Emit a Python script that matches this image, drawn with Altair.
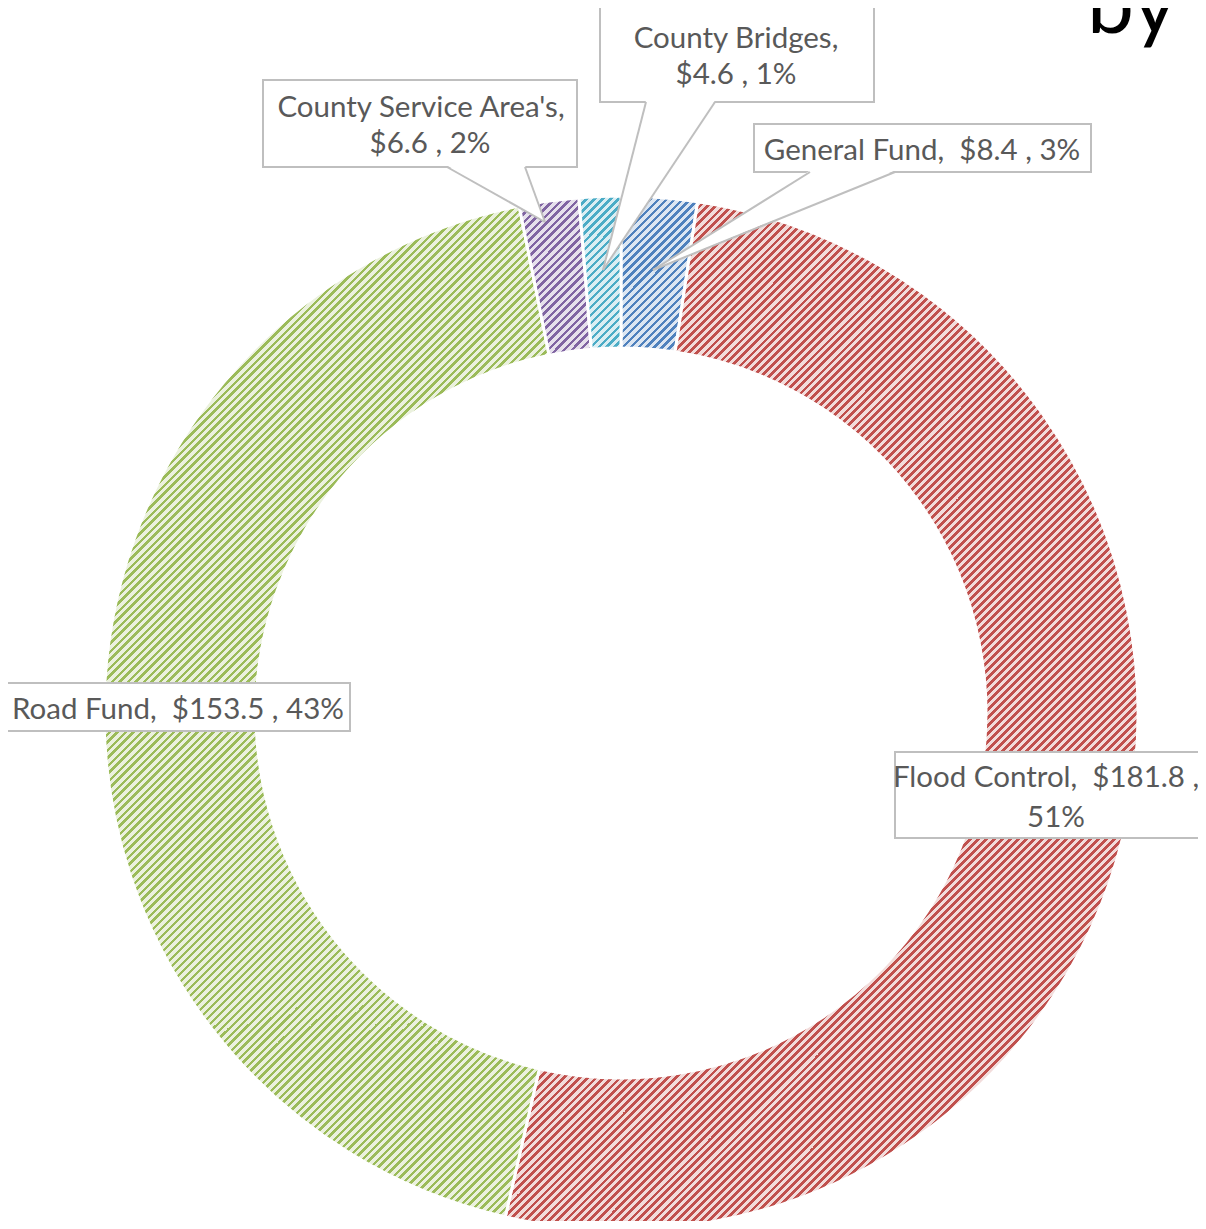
import math
import altair as alt
import pandas as pd

# ---------------- data ----------------
names = ["General Fund", "Flood Control", "Road Fund", "County Service Area's", "County Bridges"]
amounts = [8.4, 181.8, 153.5, 6.6, 4.6]
amount_labels = ["$8.4", "$181.8", "$153.5", "$6.6", "$4.6"]
percents = ["3%", "51%", "43%", "2%", "1%"]
title_fragment = "by"

# ---------------- styles / layout ----------------
dark_cols = ["#4F81BD", "#C0504D", "#9BBB59", "#8064A2", "#4BACC6"]
light_cols = ["#DCE6F2", "#F2DCDB", "#EBF1DE", "#E6E0EC", "#DAEEF3"]
OFF = 8
W, H = 1190, 1213
CX, CY = 621 - OFF, 713 - OFF
R_OUT, R_IN = 517, 365
NBSP = "\u00a0"

line_break = ["none", "after_value", "none", "after_name", "after_name"]
# page coordinates of label boxes and text baselines
boxes = [(754, 124, 1091, 172), (895, 752, 1215, 838), (6, 683, 350, 731),
         (263, 80, 577, 167), (600, 6, 874, 102)]
line_pos = [[(922, 160)], [(1046, 787), (1056, 827)], [(178, 719)],
            [(421, 117), (430, 153)], [(736, 48), (736, 84)]]
callouts = {0: (810, 895, 172, 653, 270), 3: (447, 525, 167, 545, 222), 4: (646, 715, 102, 603, 270)}

total = sum(amounts)


def arc_bbox(a0, a1):
    pts = []
    for a in (a0, a1):
        for r in (R_OUT, R_IN):
            pts.append((CX + r * math.sin(a), CY - r * math.cos(a)))
    for k in range(5):
        c = k * math.pi / 2
        if a0 < c < a1:
            pts.append((CX + R_OUT * math.sin(c), CY - R_OUT * math.cos(c)))
    xs = [p[0] for p in pts]
    ys = [p[1] for p in pts]
    return min(xs), min(ys), max(xs), max(ys)


def hatch(dark, light, bbox, period=8.0, frac=0.39):
    x0, y0, x1, y1 = bbox
    w, h = x1 - x0, y1 - y0
    s = w + h
    k = s / (w * w + h * h)
    base = x0 + y0
    bounds = []
    m = math.floor(base / period)
    while m * period <= base + s:
        for b in (m * period, m * period + frac * period):
            if base < b < base + s:
                bounds.append(b)
        m += 1
    cur = dark if (base % period) < frac * period else light
    stops = [alt.GradientStop(offset=0, color=cur)]
    for b in bounds:
        off = round((b - base) / s, 5)
        stops.append(alt.GradientStop(offset=off, color=cur))
        cur = dark if cur == light else light
        stops.append(alt.GradientStop(offset=off, color=cur))
    stops.append(alt.GradientStop(offset=1, color=cur))
    return alt.LinearGradient(gradient="linear", stops=stops, x1=0, y1=0,
                              x2=round(w * k, 5), y2=round(h * k, 5))


df = pd.DataFrame({"name": names, "amount": amounts, "order": list(range(len(names)))})
base = alt.Chart(df).transform_stack(
    stack="amount", groupby=[], as_=["v0", "v1"],
    sort=[alt.SortField("order", order="ascending")]
)
theta_scale = alt.Scale(domain=[0, total], range=[0, 2 * math.pi])

layers = []
cum = 0.0
for i, name in enumerate(names):
    a0 = cum / total * 2 * math.pi
    cum += amounts[i]
    a1 = cum / total * 2 * math.pi
    grad = hatch(dark_cols[i], light_cols[i], arc_bbox(a0, a1))
    layers.append(
        base.transform_filter(alt.datum.order == i)
        .mark_arc(radius=R_OUT, radius2=R_IN, fill=grad, stroke="white", strokeWidth=3)
        .encode(theta=alt.Theta("v0:Q", stack=None, scale=theta_scale),
                theta2="v1:Q", x=alt.value(CX), y=alt.value(CY))
    )

# label boxes
box_df = pd.DataFrame([{"x": b[0] - OFF, "y": b[1] - OFF, "x2": b[2] - OFF, "y2": b[3] - OFF} for b in boxes])
layers.append(
    alt.Chart(box_df).mark_rect(fill="white", stroke="#bfbfbf", strokeWidth=2).encode(
        x=alt.X("x:Q", scale=None), x2="x2:Q", y=alt.Y("y:Q", scale=None), y2="y2:Q")
)

# callout pointers (white triangles + grey sides)
tri_rows, rule_rows = [], []
for i, (xl, xr, yb, xt, yt) in callouts.items():
    tri_rows.append({"id": i, "y": yb - OFF - 1.5, "xa": xl - OFF, "xb": xr - OFF})
    tri_rows.append({"id": i, "y": yt - OFF, "xa": xt - OFF, "xb": xt - OFF})
    rule_rows.append({"x": xl - OFF, "y": yb - OFF, "x2": xt - OFF, "y2": yt - OFF})
    rule_rows.append({"x": xr - OFF, "y": yb - OFF, "x2": xt - OFF, "y2": yt - OFF})
layers.append(
    alt.Chart(pd.DataFrame(tri_rows)).mark_area(orient="horizontal", fill="white").encode(
        y=alt.Y("y:Q", scale=None), x=alt.X("xa:Q", scale=None, stack=None), x2="xb:Q",
        detail="id:N")
)
layers.append(
    alt.Chart(pd.DataFrame(rule_rows)).mark_rule(color="#bfbfbf", strokeWidth=2).encode(
        x=alt.X("x:Q", scale=None), y=alt.Y("y:Q", scale=None), x2="x2:Q", y2="y2:Q")
)

# label texts
text_rows = []
for i, name in enumerate(names):
    amt, pct = amount_labels[i], percents[i]
    if line_break[i] == "none":
        lines = [f"{name}, {NBSP}{amt} , {pct}"]
    elif line_break[i] == "after_value":
        lines = [f"{name}, {NBSP}{amt} ,", pct]
    else:
        lines = [f"{name},", f"{amt} , {pct}"]
    for txt, (px, py) in zip(lines, line_pos[i]):
        text_rows.append({"text": txt, "x": px - OFF, "y": py - OFF})
layers.append(
    alt.Chart(pd.DataFrame(text_rows)).mark_text(
        font="Lato", fontSize=29.5, color="#595959", align="center", baseline="alphabetic"
    ).encode(x=alt.X("x:Q", scale=None), y=alt.Y("y:Q", scale=None), text="text:N")
)

# cropped title fragment
layers.append(
    alt.Chart(pd.DataFrame({"t": [title_fragment]})).mark_text(
        font="Lato", fontSize=84, color="black", align="left", baseline="alphabetic"
    ).encode(x=alt.value(1087 - OFF), y=alt.value(33 - OFF), text="t:N")
)

chart = alt.layer(*layers).properties(
    width=W, height=H, padding=0, autosize=alt.AutoSizeParams(type="none"),
    background="white"
).configure_view(stroke=None)

chart.save("out.html", embed_options={"renderer": "svg", "actions": False})
